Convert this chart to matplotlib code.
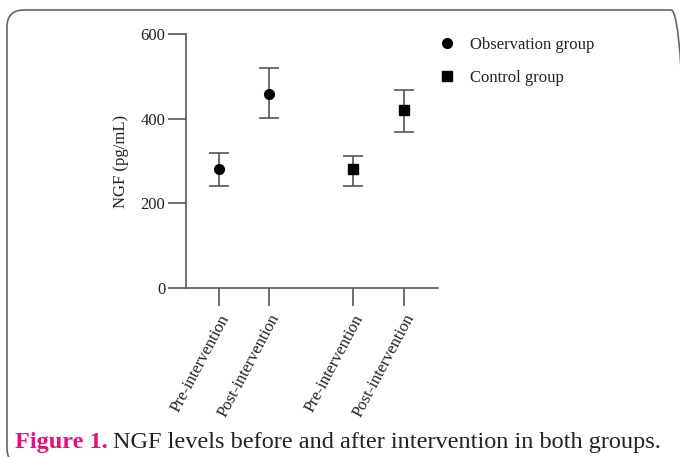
import matplotlib
matplotlib.use("Agg")
import matplotlib.pyplot as plt
from matplotlib.patches import FancyBboxPatch

# values (pg/mL)
labels = ["Pre-intervention", "Post-intervention", "Pre-intervention", "Post-intervention"]
obs_mean = [280, 458]
obs_low = [241, 401]
obs_high = [320, 520]
ctrl_mean = [280, 420]
ctrl_low = [241, 368]
ctrl_high = [312, 468]
yticks = [0, 200, 400, 600]

plt.rcParams["font.family"] = ["Liberation Serif", "DejaVu Serif"]
W, H = 680, 457
fig = plt.figure(figsize=(W / 100, H / 100), dpi=100)

# rounded frame around the whole figure (right and bottom run off the image)
frame = FancyBboxPatch((7 / W, -8 / H), 681 / W, (H - 10 + 8) / H,
                       boxstyle="round,pad=0,rounding_size=0.025",
                       transform=fig.transFigure, fill=False,
                       edgecolor="#666666", linewidth=1.2, mutation_aspect=W / H)
fig.patches.append(frame)

ax = fig.add_axes([186 / W, 1 - 288 / H, (438 - 186) / W, (288 - 34) / H])
axc = "#555555"
fs = 12
xpos_obs = [1, 2]
xpos_ctrl = [3.68, 4.7]


def err(mean, low, high):
    return [[m - l for m, l in zip(mean, low)], [h - m for m, h in zip(mean, high)]]


ax.errorbar(xpos_obs, obs_mean, yerr=err(obs_mean, obs_low, obs_high), fmt="o",
            color="black", ecolor=axc, elinewidth=1.2, capsize=7, capthick=1.2,
            markersize=7, label="Observation group")
ax.errorbar(xpos_ctrl, ctrl_mean, yerr=err(ctrl_mean, ctrl_low, ctrl_high), fmt="s",
            color="black", ecolor=axc, elinewidth=1.2, capsize=7, capthick=1.2,
            markersize=6.5, label="Control group")

ax.set_xlim(0.34, 5.38)
ax.set_ylim(0, 600)
ax.set_yticks(yticks)
ax.set_xticks(xpos_obs + xpos_ctrl)
ax.set_xticklabels(labels, rotation=62, ha="right", rotation_mode="anchor", fontsize=fs)
ax.tick_params(axis="both", length=13, width=1.2, color=axc, labelsize=fs,
               labelcolor="#222222", pad=2)
ax.tick_params(axis="x", pad=4)
for s in ["top", "right"]:
    ax.spines[s].set_visible(False)
for s in ["left", "bottom"]:
    ax.spines[s].set_color(axc)
    ax.spines[s].set_linewidth(1.2)
ax.set_ylabel("NGF (pg/mL)", fontsize=fs, labelpad=8, color="#222222")

h, l = ax.get_legend_handles_labels()
h = [x[0] for x in h]
fig.legend(h, l, loc="upper left", bbox_to_anchor=(422 / W, 1 - 22 / H),
           frameon=False, fontsize=fs, handletextpad=0.8, labelspacing=1.0,
           handlelength=1.2, labelcolor="#222222")

# caption in two colours
t1 = fig.text(15 / W, 1 - 448 / H, "Figure 1.", color="#e2127a", fontweight="bold",
              fontsize=17.5, va="baseline")
fig.canvas.draw()
bb = t1.get_window_extent()
fig.text((bb.x1 + 5) / W, 1 - 448 / H,
         "NGF levels before and after intervention in both groups.",
         color="#222222", fontsize=17.5, va="baseline")

fig.savefig("out.png", dpi=100)
